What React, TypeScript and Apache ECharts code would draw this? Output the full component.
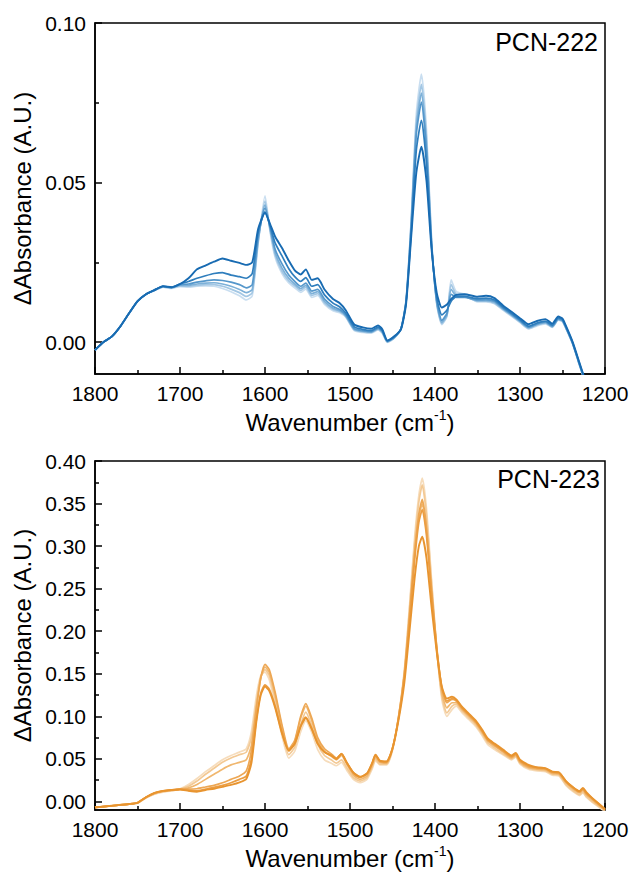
import React, { useEffect, useRef } from "react";
import * as echarts from "echarts";

// ---------- PCN-222 (top panel) ----------
const wavenumberTop = [
  1800, 1790, 1780, 1770, 1760, 1750, 1740, 1730, 1720, 1710, 1700, 1690, 1680, 1670, 1660, 1650,
  1640, 1630, 1622, 1615, 1608, 1600, 1594, 1588, 1580, 1572, 1565, 1558, 1552, 1545, 1538, 1530,
  1520, 1512, 1505, 1495, 1485, 1475, 1467, 1462, 1456, 1448, 1440, 1434, 1428, 1422, 1416, 1410,
  1404, 1398, 1392, 1386, 1381, 1375, 1365, 1350, 1340, 1330, 1320, 1310, 1300, 1290, 1280, 1270,
  1262, 1255, 1250, 1245, 1238, 1230, 1222,
];
const pcn222_1 = [
  -0.0025, 0.0, 0.0018, 0.005, 0.009, 0.0128, 0.015, 0.0163, 0.0175, 0.0172, 0.0182, 0.02, 0.0228, 0.024, 0.0252, 0.0262,
  0.0255, 0.0248, 0.0242, 0.025, 0.0355, 0.0405, 0.037, 0.033, 0.0295, 0.0255, 0.0225, 0.0212, 0.0228, 0.0195, 0.02, 0.0165,
  0.0135, 0.0122, 0.01, 0.0055, 0.0046, 0.0042, 0.0052, 0.004, 0.0005, 0.0018, 0.004, 0.012, 0.033, 0.053, 0.0612, 0.0505,
  0.029, 0.0155, 0.0108, 0.0118, 0.0135, 0.0148, 0.015, 0.0142, 0.0145, 0.0138, 0.0115, 0.0095, 0.0075, 0.0056, 0.0066, 0.0072,
  0.0058, 0.008, 0.0074, 0.0045, 0.0, -0.0065, -0.013,
];
const pcn222_2 = [
  -0.0025, 0.0, 0.0018, 0.005, 0.009, 0.0128, 0.015, 0.0163, 0.0175, 0.0172, 0.0182, 0.019, 0.02, 0.0208, 0.0215, 0.0218,
  0.021, 0.0205, 0.02, 0.0215, 0.0345, 0.0408, 0.0365, 0.031, 0.027, 0.023, 0.0205, 0.019, 0.0202, 0.0175, 0.018, 0.0148,
  0.0122, 0.011, 0.009, 0.0048, 0.004, 0.0036, 0.0047, 0.0036, 0.0004, 0.0016, 0.0042, 0.0125, 0.0345, 0.06, 0.0695, 0.056,
  0.03, 0.014, 0.0085, 0.01, 0.0128, 0.0142, 0.0143, 0.0136, 0.0138, 0.0132, 0.011, 0.009, 0.007, 0.005, 0.006, 0.0066,
  0.0053, 0.0076, 0.007, 0.0042, -0.0002, -0.0068, -0.0132,
];
const pcn222_3 = [
  -0.0025, 0.0, 0.0018, 0.005, 0.009, 0.0128, 0.015, 0.0163, 0.0175, 0.0171, 0.018, 0.0182, 0.0188, 0.0192, 0.0195, 0.0193,
  0.0188, 0.018, 0.017, 0.018, 0.033, 0.042, 0.036, 0.029, 0.0245, 0.021, 0.019, 0.0175, 0.0185, 0.016, 0.0165, 0.0135,
  0.0112, 0.0102, 0.0085, 0.0042, 0.0036, 0.0033, 0.0044, 0.0033, 0.0002, 0.0015, 0.0042, 0.0128, 0.036, 0.065, 0.0752, 0.06,
  0.0305, 0.013, 0.0068, 0.009, 0.015, 0.014, 0.014, 0.0132, 0.0133, 0.0128, 0.0106, 0.0087, 0.0067, 0.0047, 0.0057, 0.0063,
  0.005, 0.0073, 0.0068, 0.004, -0.0004, -0.007, -0.0134,
];
const pcn222_4 = [
  -0.0025, 0.0, 0.0018, 0.005, 0.009, 0.0128, 0.015, 0.0162, 0.0174, 0.017, 0.0178, 0.0178, 0.0182, 0.0185, 0.0186, 0.0182,
  0.0175, 0.0165, 0.0155, 0.0165, 0.032, 0.043, 0.0355, 0.028, 0.0232, 0.02, 0.0182, 0.0168, 0.0178, 0.0152, 0.0158, 0.0128,
  0.0106, 0.0098, 0.0082, 0.004, 0.0034, 0.0031, 0.0042, 0.0031, 0.0001, 0.0014, 0.0042, 0.013, 0.037, 0.067, 0.078, 0.062,
  0.031, 0.0125, 0.0062, 0.0085, 0.0165, 0.0145, 0.0142, 0.013, 0.013, 0.0125, 0.0104, 0.0085, 0.0065, 0.0045, 0.0055, 0.0061,
  0.0048, 0.0071, 0.0066, 0.0039, -0.0005, -0.0071, -0.0135,
];
const pcn222_5 = [
  -0.0025, 0.0, 0.0018, 0.005, 0.009, 0.0128, 0.015, 0.0162, 0.0173, 0.0169, 0.0176, 0.0175, 0.0178, 0.018, 0.018, 0.0175,
  0.0166, 0.0155, 0.0143, 0.0155, 0.0315, 0.0442, 0.035, 0.0272, 0.0222, 0.0192, 0.0176, 0.0162, 0.0172, 0.0146, 0.0152, 0.0123,
  0.0102, 0.0095, 0.008, 0.0038, 0.0032, 0.003, 0.004, 0.003, 0.0, 0.0013, 0.0042, 0.0132, 0.0378, 0.069, 0.0808, 0.064,
  0.0315, 0.0122, 0.0058, 0.0082, 0.018, 0.015, 0.0145, 0.0128, 0.0128, 0.0122, 0.0102, 0.0083, 0.0063, 0.0043, 0.0053, 0.0059,
  0.0047, 0.007, 0.0065, 0.0038, -0.0006, -0.0072, -0.0136,
];
const pcn222_6 = [
  -0.0025, 0.0, 0.0018, 0.005, 0.009, 0.0127, 0.0149, 0.0161, 0.0172, 0.0168, 0.0174, 0.0172, 0.0175, 0.0176, 0.0175, 0.0168,
  0.0158, 0.0145, 0.0132, 0.0145, 0.031, 0.0458, 0.0345, 0.0265, 0.0215, 0.0185, 0.017, 0.0156, 0.0166, 0.014, 0.0146, 0.0118,
  0.0098, 0.0092, 0.0078, 0.0036, 0.003, 0.0028, 0.0038, 0.0028, -0.0001, 0.0012, 0.0042, 0.0134, 0.0385, 0.0715, 0.084, 0.0665,
  0.032, 0.012, 0.0055, 0.008, 0.0195, 0.0158, 0.015, 0.0126, 0.0126, 0.012, 0.01, 0.0081, 0.0061, 0.0041, 0.0051, 0.0057,
  0.0046, 0.0069, 0.0064, 0.0037, -0.0007, -0.0073, -0.0137,
];

// ---------- PCN-223 (bottom panel) ----------
const wavenumberBottom = [
  1800, 1780, 1760, 1750, 1740, 1730, 1720, 1710, 1700, 1690, 1680, 1670, 1660, 1650, 1640, 1630,
  1622, 1616, 1610, 1605, 1600, 1595, 1588, 1580, 1572, 1565, 1558, 1552, 1545, 1538, 1530, 1522,
  1516, 1510, 1504, 1496, 1488, 1480, 1474, 1470, 1465, 1457, 1450, 1443, 1436, 1430, 1424, 1419,
  1415, 1410, 1404, 1398, 1392, 1386, 1380, 1375, 1368, 1360, 1352, 1345, 1338, 1330, 1320, 1310,
  1305, 1300, 1290, 1280, 1270, 1262, 1254, 1246, 1238, 1230, 1226, 1222, 1215, 1208, 1200,
];
const pcn223_1 = [
  -0.007, -0.005, -0.003, -0.0015, 0.005, 0.01, 0.0125, 0.0135, 0.014, 0.0125, 0.0115, 0.0135, 0.015, 0.0172, 0.0195, 0.0225,
  0.0265, 0.045, 0.095, 0.125, 0.135, 0.13, 0.11, 0.08, 0.06, 0.068, 0.088, 0.098, 0.085, 0.068, 0.058, 0.054,
  0.05, 0.056, 0.046, 0.034, 0.029, 0.033, 0.045, 0.055, 0.048, 0.047, 0.062, 0.095, 0.14, 0.2, 0.262, 0.3,
  0.311, 0.286, 0.228, 0.176, 0.135, 0.121, 0.123, 0.12, 0.111, 0.103, 0.095, 0.085, 0.074, 0.068, 0.061, 0.054,
  0.057, 0.049, 0.043, 0.04, 0.039, 0.035, 0.034, 0.024, 0.017, 0.012, 0.016, 0.011, 0.004, -0.002, -0.009,
];
const pcn223_2 = [
  -0.007, -0.005, -0.003, -0.0015, 0.005, 0.01, 0.0125, 0.0135, 0.0142, 0.013, 0.0125, 0.0145, 0.0165, 0.019, 0.022, 0.026,
  0.03, 0.05, 0.097, 0.127, 0.137, 0.132, 0.112, 0.081, 0.06, 0.068, 0.089, 0.099, 0.086, 0.068, 0.058, 0.054,
  0.05, 0.056, 0.046, 0.034, 0.029, 0.033, 0.045, 0.055, 0.048, 0.047, 0.063, 0.097, 0.146, 0.212, 0.283, 0.328,
  0.343, 0.312, 0.242, 0.18, 0.134, 0.118, 0.121, 0.119, 0.11, 0.102, 0.094, 0.084, 0.073, 0.067, 0.06, 0.053,
  0.056, 0.048, 0.042, 0.04, 0.039, 0.035, 0.034, 0.024, 0.017, 0.012, 0.015, 0.01, 0.004, -0.002, -0.009,
];
const pcn223_3 = [
  -0.007, -0.005, -0.003, -0.0015, 0.005, 0.0098, 0.0122, 0.0135, 0.0145, 0.0145, 0.015, 0.017, 0.019, 0.022, 0.026, 0.03,
  0.036, 0.06, 0.11, 0.145, 0.161, 0.155, 0.128, 0.09, 0.062, 0.072, 0.1, 0.115, 0.098, 0.075, 0.062, 0.056,
  0.051, 0.056, 0.046, 0.033, 0.028, 0.032, 0.044, 0.054, 0.047, 0.046, 0.063, 0.098, 0.15, 0.218, 0.292, 0.338,
  0.355, 0.322, 0.248, 0.182, 0.133, 0.116, 0.12, 0.118, 0.109, 0.101, 0.093, 0.083, 0.072, 0.066, 0.059, 0.052,
  0.055, 0.047, 0.041, 0.039, 0.038, 0.034, 0.033, 0.023, 0.016, 0.011, 0.014, 0.009, 0.003, -0.003, -0.01,
];
const pcn223_4 = [
  -0.007, -0.005, -0.003, -0.0015, 0.0048, 0.0095, 0.012, 0.0132, 0.0145, 0.016, 0.02, 0.026, 0.032, 0.038, 0.043, 0.046,
  0.049, 0.066, 0.112, 0.145, 0.158, 0.152, 0.125, 0.087, 0.059, 0.07, 0.098, 0.112, 0.095, 0.072, 0.059, 0.053,
  0.049, 0.054, 0.044, 0.031, 0.026, 0.03, 0.042, 0.052, 0.046, 0.045, 0.062, 0.098, 0.15, 0.218, 0.29, 0.334,
  0.35, 0.318, 0.246, 0.178, 0.128, 0.11, 0.116, 0.116, 0.108, 0.1, 0.092, 0.082, 0.071, 0.065, 0.058, 0.051,
  0.054, 0.046, 0.04, 0.038, 0.037, 0.033, 0.032, 0.022, 0.015, 0.01, 0.013, 0.008, 0.002, -0.004, -0.01,
];
const pcn223_5 = [
  -0.007, -0.005, -0.003, -0.0018, 0.0045, 0.009, 0.0115, 0.0128, 0.0145, 0.018, 0.024, 0.032, 0.039, 0.046, 0.051, 0.055,
  0.058, 0.075, 0.118, 0.146, 0.155, 0.148, 0.12, 0.082, 0.055, 0.064, 0.09, 0.105, 0.089, 0.067, 0.054, 0.049,
  0.045, 0.049, 0.04, 0.028, 0.024, 0.028, 0.04, 0.05, 0.044, 0.044, 0.061, 0.099, 0.153, 0.226, 0.303, 0.352,
  0.372, 0.336, 0.256, 0.18, 0.124, 0.104, 0.112, 0.114, 0.106, 0.098, 0.09, 0.08, 0.069, 0.063, 0.056, 0.05,
  0.053, 0.045, 0.039, 0.037, 0.036, 0.032, 0.031, 0.02, 0.013, 0.008, 0.011, 0.006, 0.0, -0.005, -0.011,
];
const pcn223_6 = [
  -0.007, -0.005, -0.003, -0.002, 0.004, 0.0085, 0.011, 0.0125, 0.0148, 0.02, 0.027, 0.035, 0.042, 0.049, 0.054, 0.058,
  0.062, 0.082, 0.125, 0.148, 0.152, 0.143, 0.114, 0.077, 0.051, 0.059, 0.082, 0.095, 0.081, 0.061, 0.049, 0.045,
  0.042, 0.046, 0.037, 0.026, 0.022, 0.026, 0.038, 0.048, 0.043, 0.043, 0.06, 0.099, 0.155, 0.23, 0.31, 0.36,
  0.38, 0.344, 0.26, 0.18, 0.12, 0.1, 0.108, 0.112, 0.104, 0.096, 0.088, 0.078, 0.067, 0.061, 0.055, 0.049,
  0.052, 0.044, 0.038, 0.036, 0.035, 0.031, 0.03, 0.019, 0.012, 0.007, 0.01, 0.005, -0.001, -0.006, -0.012,
];

const xTicks = [1800, 1700, 1600, 1500, 1400, 1300, 1200];
const topMajorY = [0, 0.05, 0.1];
const topMinorY = [0.025, 0.075];
const bottomMajorY = [0, 0.05, 0.1, 0.15, 0.2, 0.25, 0.3, 0.35, 0.4];
const bottomMinorY = [0.025, 0.075, 0.125, 0.175, 0.225, 0.275, 0.325, 0.375];

const topSeries = [pcn222_6, pcn222_5, pcn222_4, pcn222_3, pcn222_2, pcn222_1];
const topColors = ["#c9def0", "#a3c7e4", "#7cb0d8", "#5597cb", "#2f7ebd", "#186bb2"];
const bottomSeries = [pcn223_6, pcn223_5, pcn223_4, pcn223_3, pcn223_2, pcn223_1];
const bottomColors = ["#f6dcbb", "#f3c994", "#f0b76f", "#eda754", "#eb9d42", "#e8942f"];

const FONT = "Liberation Sans, Arial, sans-serif";

export default function App() {
  const ref = useRef<HTMLDivElement>(null);

  useEffect(() => {
    document.body.style.margin = "0";
    if (!ref.current) return;
    const chart = echarts.init(ref.current, undefined, { renderer: "svg" });

    const xAxisFor = (gridIndex: number) => ({
      type: "value",
      gridIndex,
      min: 1200,
      max: 1800,
      interval: 100,
      inverse: true,
      axisLine: { show: true, onZero: false, lineStyle: { color: "#000", width: 1.5 } },
      axisTick: { show: true, inside: true, length: 7, lineStyle: { color: "#000", width: 1.5 } },
      minorTick: { show: true, splitNumber: 2, length: 4, lineStyle: { color: "#000", width: 1.5 } },
      splitLine: { show: false },
      axisLabel: {
        margin: 9,
        fontSize: 21,
        fontFamily: FONT,
        color: "#000",
        formatter: (v: number) => (xTicks.includes(v) ? String(v) : ""),
      },
      name: "Wavenumber (cm{sup|-1})",
      nameLocation: "middle",
      nameGap: 34,
      nameTextStyle: {
        fontSize: 24,
        fontFamily: FONT,
        color: "#000",
        lineHeight: 28,
        rich: {
          sup: { fontSize: 14, lineHeight: 14, verticalAlign: "top", fontFamily: FONT, color: "#000" },
        },
      },
    });

    const yMajorFor = (gridIndex: number, min: number, max: number, major: number[]) => ({
      type: "value",
      gridIndex,
      min,
      max,
      position: "left",
      axisLine: { show: true, onZero: false, lineStyle: { color: "#000", width: 1.5 } },
      axisTick: { show: true, inside: true, length: 7, customValues: major, lineStyle: { color: "#000", width: 1.5 } },
      splitLine: { show: false },
      axisLabel: {
        margin: 9,
        fontSize: 21,
        fontFamily: FONT,
        color: "#000",
        customValues: major,
        formatter: (v: number) => v.toFixed(2),
      },
      name: "ΔAbsorbance (A.U.)",
      nameLocation: "middle",
      nameGap: 58,
      nameTextStyle: { fontSize: 24, fontFamily: FONT, color: "#000" },
    });

    const yMinorFor = (gridIndex: number, min: number, max: number, minor: number[]) => ({
      type: "value",
      gridIndex,
      min,
      max,
      position: "left",
      offset: 0,
      axisLine: { show: false },
      axisTick: { show: true, inside: true, length: 4, customValues: minor, lineStyle: { color: "#000", width: 1.5 } },
      splitLine: { show: false },
      axisLabel: { show: false },
    });

    const mkSeries = (
      wn: number[],
      list: number[][],
      colors: string[],
      xAxisIndex: number,
      yAxisIndex: number
    ) =>
      list.map((vals, k) => ({
        type: "line",
        xAxisIndex,
        yAxisIndex,
        data: wn.map((w, i) => [w, vals[i]]),
        showSymbol: false,
        symbol: "none",
        smooth: 0.2,
        clip: true,
        lineStyle: { color: colors[k], width: k === list.length - 1 ? 1.9 : 1.7 },
        z: 2 + k,
      }));

    chart.setOption({
      animation: false,
      backgroundColor: "#fff",
      grid: [
        { left: 95, top: 23, width: 510, height: 351, show: true, borderColor: "#000", borderWidth: 1.5, backgroundColor: "transparent" },
        { left: 95, top: 461, width: 510, height: 351, show: true, borderColor: "#000", borderWidth: 1.5, backgroundColor: "transparent" },
      ],
      xAxis: [xAxisFor(0), xAxisFor(1)],
      yAxis: [
        yMajorFor(0, -0.01, 0.1, topMajorY),
        yMinorFor(0, -0.01, 0.1, topMinorY),
        yMajorFor(1, -0.01, 0.4, bottomMajorY),
        yMinorFor(1, -0.01, 0.4, bottomMinorY),
      ],
      series: [
        ...mkSeries(wavenumberTop, topSeries, topColors, 0, 0),
        ...mkSeries(wavenumberBottom, bottomSeries, bottomColors, 1, 2),
      ],
      graphic: [
        {
          type: "text",
          x: 598,
          y: 42,
          style: {
            text: "PCN-222",
            fontSize: 25,
            fontFamily: FONT,
            fill: "#000",
            align: "right",
            verticalAlign: "middle",
            textAlign: "right",
            textVerticalAlign: "middle",
          },
        },
        {
          type: "text",
          x: 600,
          y: 479,
          style: {
            text: "PCN-223",
            fontSize: 25,
            fontFamily: FONT,
            fill: "#000",
            align: "right",
            verticalAlign: "middle",
            textAlign: "right",
            textVerticalAlign: "middle",
          },
        },
      ],
    });

    return () => chart.dispose();
  }, []);

  return <div ref={ref} style={{ width: 632, height: 873 }} />;
}
